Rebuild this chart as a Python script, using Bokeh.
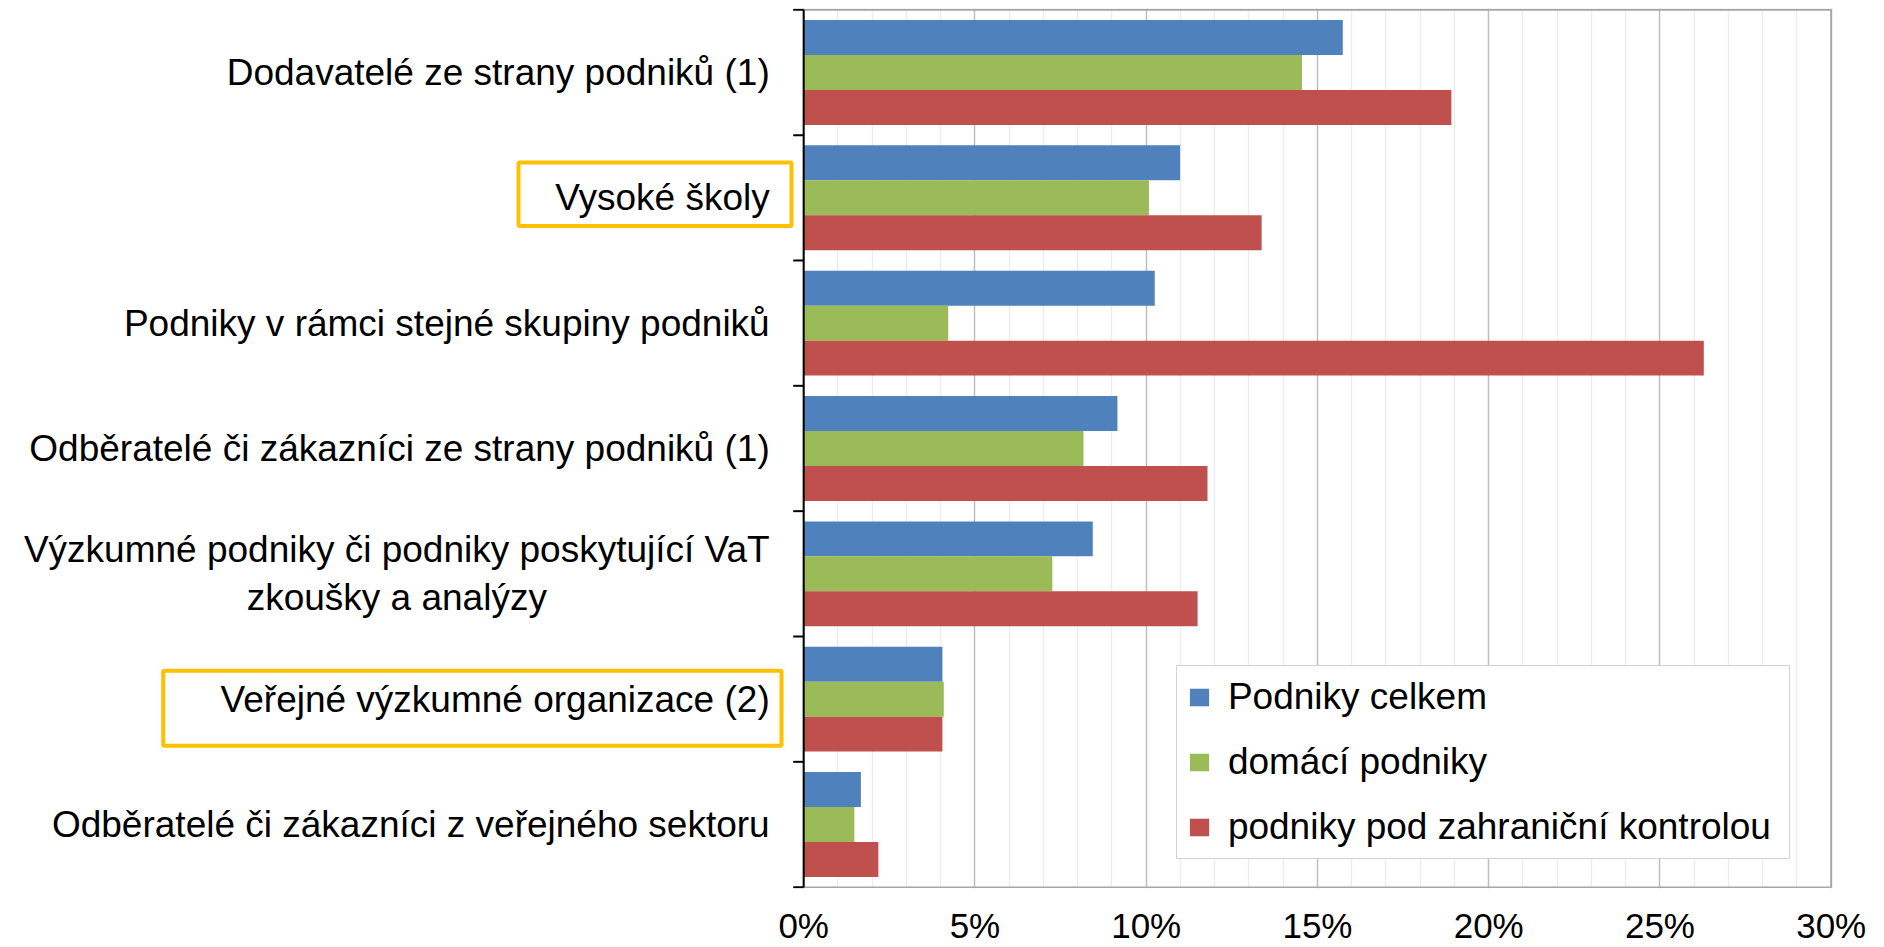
from bokeh.plotting import figure
from bokeh.models import (ColumnDataSource, FixedTicker, PrintfTickFormatter,
                          Legend, LegendItem, Range1d)
from bokeh.core.properties import value
from bokeh.embed import file_html
from bokeh.resources import INLINE

# ---------------- data ----------------
categories = [
    "Dodavatelé ze strany podniků (1)",
    "Vysoké školy",
    "Podniky v rámci stejné skupiny podniků",
    "Odběratelé či zákazníci ze strany podniků (1)",
    "Výzkumné podniky či podniky poskytující VaT\nzkoušky a analýzy",
    "Veřejné výzkumné organizace (2)",
    "Odběratelé či zákazníci z veřejného sektoru",
]
series_names = ["Podniky celkem", "domácí podniky", "podniky pod zahraniční kontrolou"]
podniky_celkem = [15.74, 10.99, 10.25, 9.16, 8.44, 4.05, 1.67]
domaci_podniky = [14.55, 10.08, 4.22, 8.17, 7.26, 4.09, 1.48]
zahranicni_kontrola = [18.91, 13.37, 26.28, 11.79, 11.50, 4.05, 2.18]
x_ticks = [0, 5, 10, 15, 20, 25, 30]
highlighted = ["Vysoké školy", "Veřejné výzkumné organizace (2)"]

# ---------------- style / geometry ----------------
COLORS = ["#4F81BD", "#9BBB59", "#C0504D"]
FONT = "Liberation Sans"
W, H = 1876, 947
RIGHT_BORDER = 44
TOP_BORDER = 8
AXIS_PX = 803.2            # canvas x of the 0 % line
PX_PER_PCT = 34.25
FRAME_H = 880.0            # expected frame height
TOP_PAD = 1.3
PX_PER_CAT = 125.34
BAR_H = 0.279
TICK_PX = 10.5
LABEL_GAP = 34
BOX_PX = {  # left, right (px from axis), top, bottom (px from category centre)
    "Vysoké školy": (-285.2, -12.2, 35.3, -28.2),
    "Veřejné výzkumné organizace (2)": (-640.5, -22.2, 28.5, -46.5),
}

n = len(categories)
X0 = -AXIS_PX / PX_PER_PCT
X1 = (W - RIGHT_BORDER - AXIS_PX) / PX_PER_PCT
Y1 = n + TOP_PAD / PX_PER_CAT
Y0 = -(FRAME_H - TOP_PAD - n * PX_PER_CAT) / PX_PER_CAT

centers = [n - 0.5 - i for i in range(n)]

p = figure(width=W, height=H, x_range=Range1d(X0, X1), y_range=Range1d(Y0, Y1),
           output_backend="svg", toolbar_location=None, tools="",
           y_axis_location=None, min_border_left=0, min_border_right=RIGHT_BORDER,
           min_border_top=TOP_BORDER, min_border_bottom=0, outline_line_color=None,
           background_fill_color="white", border_fill_color="white")

# x axis
ticker = FixedTicker(ticks=x_ticks, minor_ticks=[m for m in range(x_ticks[0], x_ticks[-1]) if m % 5])
ax = p.xaxis[0]
ax.ticker = ticker
ax.formatter = PrintfTickFormatter(format="%d%%")
ax.axis_line_color = None
ax.major_tick_out = 0
ax.major_tick_in = 0
ax.minor_tick_out = 0
ax.minor_tick_in = 0
ax.major_label_standoff = 17
ax.major_label_text_font = FONT
ax.major_label_text_font_size = "35px"
ax.major_label_text_color = "#000000"

p.xgrid.ticker = ticker
p.xgrid.grid_line_color = "#BEBEBE"
p.xgrid.grid_line_width = 1.5
p.xgrid.minor_grid_line_color = "#EDEDED"
p.xgrid.minor_grid_line_width = 1.5
p.ygrid.visible = False

# bars
offsets = [BAR_H, 0.0, -BAR_H]
renderers = []
for vals, off, col in zip([podniky_celkem, domaci_podniky, zahranicni_kontrola], offsets, COLORS):
    src = ColumnDataSource(dict(y=[c + off for c in centers], right=vals))
    r = p.hbar(y="y", right="right", left=0, height=BAR_H, source=src,
               fill_color=col, line_color=None)
    renderers.append(r)

# plot-area borders
p.segment(x0=[0, x_ticks[-1]], y0=[n, 0], x1=[x_ticks[-1], x_ticks[-1]], y1=[n, n],
          line_color="#A6A6A6", line_width=2)
p.segment(x0=[0], y0=[0], x1=[x_ticks[-1]], y1=[0], line_color="#A6A6A6", line_width=1.5)
# category axis with ticks at category boundaries
bounds = list(range(n + 1))
p.segment(x0=[-TICK_PX / PX_PER_PCT] * len(bounds), y0=bounds, x1=[0] * len(bounds), y1=bounds,
          line_color="#000000", line_width=2)
p.segment(x0=[0], y0=[0], x1=[0], y1=[n], line_color="#000000", line_width=2)

# category labels
p.text(x=[0] * n, y=centers, text=categories, x_offset=-LABEL_GAP,
       anchor="center_right", text_align="center", text_baseline="middle",
       text_font=value(FONT), text_font_size="37px", text_color="#000000",
       text_line_height=1.17)

# highlight boxes
bl, br, bt, bb = [], [], [], []
for name in highlighted:
    i = categories.index(name)
    l, r_, t, b = BOX_PX[name]
    bl.append(l / PX_PER_PCT)
    br.append(r_ / PX_PER_PCT)
    bt.append(centers[i] + t / PX_PER_CAT)
    bb.append(centers[i] + b / PX_PER_CAT)
p.quad(left=bl, right=br, top=bt, bottom=bb, fill_color=None,
       line_color="#FFC000", line_width=4)

# legend
legend = Legend(items=[LegendItem(label=nm, renderers=[r]) for nm, r in zip(series_names, renderers)],
                location=(1175.9, 28.7), orientation="vertical",
                margin=0, padding=10, spacing=23, glyph_width=24, glyph_height=22,
                label_standoff=17, label_width=551,
                label_text_font=FONT, label_text_font_size="37px", label_text_color="#000000",
                border_line_color="#A6A6A6", border_line_width=1.5,
                background_fill_color="white", background_fill_alpha=1.0)
p.add_layout(legend)

open("out.html", "w").write(file_html(p, INLINE))
